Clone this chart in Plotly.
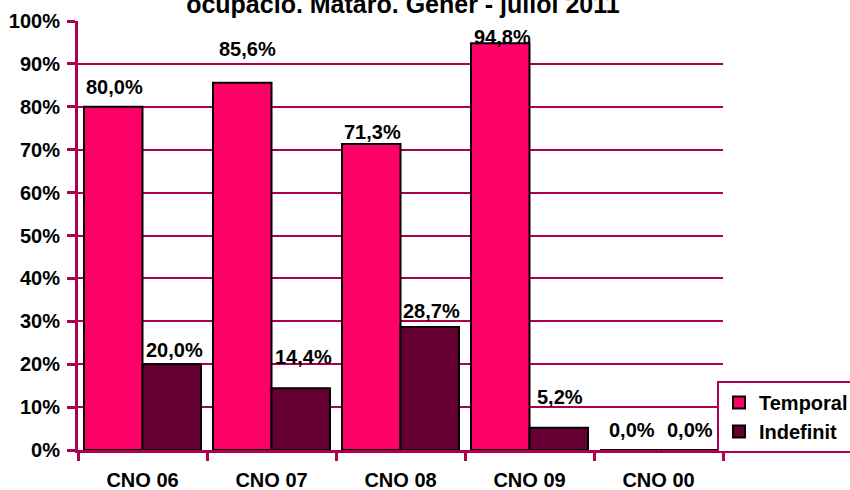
import plotly.graph_objects as go

# Contract shares by occupation group (percent)
categories = ["CNO 06", "CNO 07", "CNO 08", "CNO 09", "CNO 00"]
temporal = [80.0, 85.6, 71.3, 94.8, 0.0]
indefinit = [20.0, 14.4, 28.7, 5.2, 0.0]
y_ticks = [0, 10, 20, 30, 40, 50, 60, 70, 80, 90, 100]

title_text = "ocupació. Mataró. Gener - juliol 2011"

# Styling
FONT = "Liberation Sans, Arial, sans-serif"
CRIMSON = "#AE0050"
PINK = "#FF0066"
MAROON = "#660033"
BARGAP = 0.093

# Per-label nudges in pixels (x from bar centre, y from bar top to label centre)
temporal_dx = [1, 5, 1, 2, 3]
temporal_dy = [20, 34, 12, 6, 20]
indefinit_dx = [3, 3, 2, 1, 2]
indefinit_dy = [14, 31, 16, 31, 20]


def fmt(v):
    return f"{v:.1f}".replace(".", ",") + "%"


fig = go.Figure()
fig.add_trace(go.Bar(
    name="Temporal", x=categories, y=temporal,
    marker=dict(color=PINK, line=dict(color="black", width=2)),
))
fig.add_trace(go.Bar(
    name="Indefinit", x=categories, y=indefinit,
    marker=dict(color=MAROON, line=dict(color="black", width=2)),
))

half = (1 - BARGAP) / 4
for i, cat in enumerate(categories):
    for vals, dxs, dys, sign in ((temporal, temporal_dx, temporal_dy, -1),
                                 (indefinit, indefinit_dx, indefinit_dy, 1)):
        fig.add_annotation(
            x=i + sign * half, y=vals[i], xref="x", yref="y",
            text=fmt(vals[i]), showarrow=False,
            xanchor="center", yanchor="middle",
            xshift=dxs[i], yshift=dys[i],
            font=dict(family=FONT, size=20, color="black", weight="bold"),
        )

fig.update_layout(
    width=850, height=490,
    margin=dict(l=78, r=127, t=21, b=40, autoexpand=False),
    paper_bgcolor="white", plot_bgcolor="white",
    barmode="group", bargap=BARGAP, bargroupgap=0,
    showlegend=True,
    title=dict(
        text=title_text, xref="container", yref="container",
        x=0.474, xanchor="center", y=1 - 13 / 490, yanchor="bottom",
        font=dict(family=FONT, size=25, color="black", weight="bold"),
    ),
    legend=dict(
        xref="container", yref="container",
        x=717 / 850, xanchor="left", y=1 - 381 / 490, yanchor="top",
        bordercolor=CRIMSON, borderwidth=2, bgcolor="white",
        font=dict(family=FONT, size=20, color="black", weight="bold"),
        itemwidth=30, tracegroupgap=0,
    ),
    font=dict(family=FONT, color="black"),
)

fig.update_xaxes(
    type="category", showline=True, linecolor=CRIMSON, linewidth=3,
    ticks="outside", tickson="boundaries", ticklen=8, tickwidth=3, tickcolor=CRIMSON,
    showgrid=False, ticklabelstandoff=10,
    tickfont=dict(family=FONT, size=20, color="black", weight="bold"),
)
fig.update_yaxes(
    range=[0, 100], tickvals=y_ticks, ticktext=[f"{t}%" for t in y_ticks],
    showline=True, linecolor=CRIMSON, linewidth=3,
    ticks="outside", ticklen=8, tickwidth=3, tickcolor=CRIMSON,
    showgrid=True, gridcolor=CRIMSON, gridwidth=2, zeroline=False,
    ticklabelstandoff=3,
    tickfont=dict(family=FONT, size=20, color="black", weight="bold"),
)

fig.write_html("out.html")
